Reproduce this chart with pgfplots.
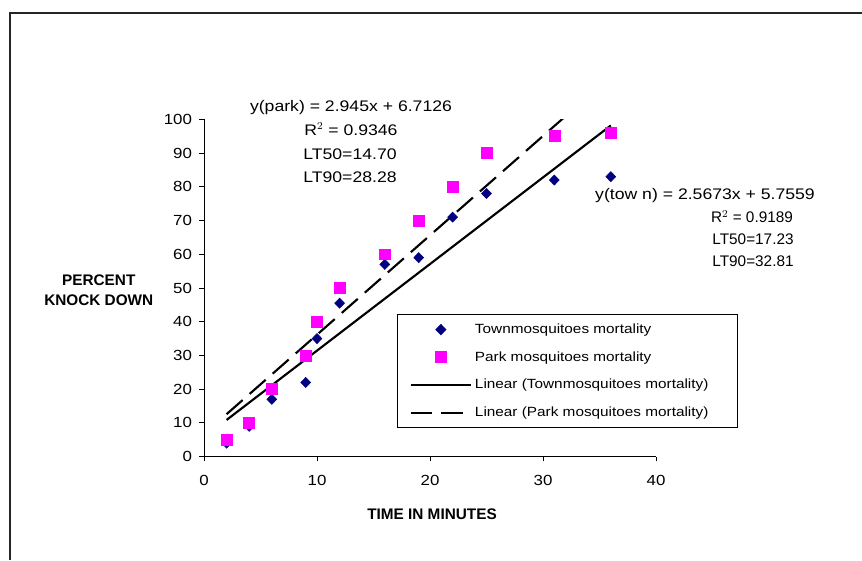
\documentclass[border=0pt]{standalone}
\usepackage{fontspec}
\setmainfont{Liberation Sans}[FakeStretch=1.15]
\newfontfamily\labfont{Liberation Sans}
\usepackage{pgfplots}
\pgfplotsset{compat=1.18}
\definecolor{townblue}{RGB}{0,0,128}
\definecolor{parkmag}{RGB}{255,0,255}

\begin{document}
\begin{tikzpicture}[x=0.75pt,y=0.75pt]
\useasboundingbox (0,0) rectangle (862,560);
% chart frame (only top and left edges are visible)
\draw[line width=1pt, black!85] (10,0) -- (10,547) -- (862,547);

\begin{axis}[
    at={(153pt,77.5pt)}, anchor=south west,
    scale only axis,
    width=339pt, height=253pt,
    xmin=0, xmax=40, ymin=0, ymax=100,
    xtick={0,10,20,30,40},
    ytick={0,10,20,30,40,50,60,70,80,90,100},
    axis x line*=bottom, axis y line*=left,
    tick align=outside,
    major tick length=3.5pt,
    tick style={black, line width=0.7pt},
    axis line style={black, line width=0.7pt},
    ticklabel style={font=\fontsize{11}{13}\selectfont},
    xticklabel style={yshift=-7pt},
    yticklabel style={xshift=-2pt},
    /pgf/number format/assume math mode=true,
    legend style={at={(0.427,0.423)}, anchor=north west,
        draw=black, line width=0.7pt,
        font=\fontsize{10}{12}\selectfont,
        row sep=8pt, inner xsep=9pt, inner ysep=5pt},
    legend cell align=left,
    legend image code/.code={
        \draw[mark repeat=2, mark phase=2, #1]
            plot coordinates {(0cm,0cm) (0.8cm,0cm) (1.6cm,0cm)};
    },
]
\addplot[only marks, mark=diamond*, mark size=3.8pt, color=townblue,
    mark options={xscale=1.3}]
    coordinates {
    (2,4) (4,9) (6,17) (9,22) (10,35) (12,45.5)
    (16,57) (19,59) (22,71) (25,78) (31,82) (36,83)
};
\addplot[only marks, mark=square*, mark size=4.1pt, color=parkmag]
    coordinates {
    (2,5) (4,10) (6,20) (9,30) (10,40) (12,50)
    (16,60) (19,70) (22,80) (25,90) (31,95) (36,96)
};
% fitted trend lines (end points of the fitted equations)
\addplot[black, line width=1.6pt] coordinates {(2,10.89) (36,98.18)};
\addplot[black, line width=1.6pt, dash pattern=on 16pt off 7pt]
    coordinates {(2,12.60) (36,112.73)};
\legend{Townmosquitoes mortality, Park mosquitoes mortality,
    Linear (Townmosquitoes mortality),
    Linear (Park mosquitoes mortality)\hspace*{11pt}}
\end{axis}

% axis titles
\node[font=\labfont\bfseries\fontsize{11.5}{15}\selectfont, align=center, anchor=east]
    at (158,270) {PERCENT\\KNOCK DOWN};
\node[font=\labfont\bfseries\fontsize{11.5}{14}\selectfont, anchor=base]
    at (432,41) {TIME IN MINUTES};

% regression annotations
\begin{scope}[every node/.style={font=\fontsize{11.5}{14}\selectfont, anchor=base}]
\node at (351,448.5) {y(park) = 2.945x + 6.7126};
\node at (351,424.5) {R$^{2}$ = 0.9346};
\node at (350,400.5) {LT50=14.70};
\node at (350,377.5) {LT90=28.28};
\node at (705,360) {y(tow n) = 2.5673x + 5.7559};
\end{scope}
\begin{scope}[every node/.style={font=\labfont\fontsize{11.5}{14}\selectfont, anchor=base}]
\node at (752,337) {R$^{2}$ = 0.9189};
\node at (753,315) {LT50=17.23};
\node at (753,293) {LT90=32.81};
\end{scope}
\end{tikzpicture}
\end{document}
